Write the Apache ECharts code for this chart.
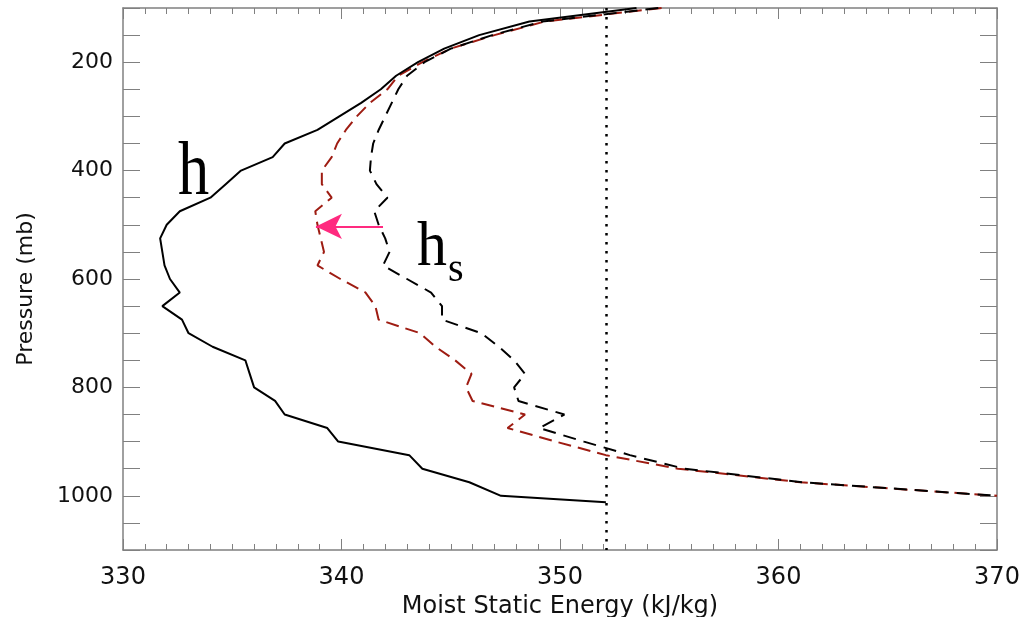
<!DOCTYPE html>
<html>
<head>
<meta charset="utf-8">
<script src="https://cdn.jsdelivr.net/npm/echarts@6/dist/echarts.min.js"></script>
<style>
html,body{margin:0;padding:0;background:#fff;}
#c{width:1024px;height:617px;}
</style>
</head>
<body>
<div id="c"></div>
<script>
// ---- Data ----
const pLevels = [100,125,150,175,200,225,250,275,300,325,350,375,400,425,450,475,500,525,550,575,600,625,650,675,700,725,750,775,800,825,850,875,900,925,950,975,1000];
// Moist static energy h (solid), plus surface point
const hP   = pLevels.concat([1012]);
const hVal = [353.5,348.6,346.3,344.7,343.5,342.5,341.8,340.9,339.9,338.9,337.4,336.85,335.4,334.7,334.0,332.6,332.0,331.7,331.8,331.9,332.15,332.6,331.8,332.7,333.0,334.1,335.6,335.8,336.0,336.96,337.4,339.35,339.85,343.1,343.7,345.85,347.3,352.1];
// Saturated moist static energy hs (black dashed)
const hsVal = [354.5,349.2,346.9,345.0,343.8,343.0,342.6,342.3,342.0,341.7,341.45,341.35,341.3,341.6,342.1,341.5,341.7,342.0,342.2,341.9,343.0,344.1,344.6,344.6,346.4,347.2,347.9,348.4,347.9,348.1,350.2,349.05,351.1,353.2,355.7,361.1,370.0];
// Modified hs (red dashed)
const hsModVal = [354.65,349.3,347.0,345.0,343.7,342.6,342.1,341.3,340.7,340.2,339.8,339.55,339.1,339.1,339.55,338.8,338.9,339.05,339.2,338.9,339.95,341.1,341.55,341.7,343.6,344.3,345.2,345.95,345.7,346.0,348.4,347.6,349.8,352.1,355.4,361.0,370.0];
const dottedX = 352.1;
const arrowFrom = [341.9, 503];
const arrowTo = [338.83, 503];
const xTicks = [330,340,350,360,370];
const yTickLabels = [200,400,600,800,1000];
const labelH = {text:'h', at:[332.52, 439]};
const labelHs = {text:'h', at:[343.45, 570]};
const labelS = {text:'s', at:[344.87, 601]};

function zip(xs, ps){ return xs.map((v,i)=>[v, ps[i]]); }

const chart = echarts.init(document.getElementById('c'), null, {renderer:'canvas'});
const gray = '#808080';
const xBase = {
  type:'value', min:330, max:370, interval:10,
  axisLine:{show:true, onZero:false, lineStyle:{color:gray, width:1.5}},
  axisTick:{show:true, inside:true, length:11, lineStyle:{color:gray, width:1}},
  minorTick:{show:true, splitNumber:10, length:6, lineStyle:{color:gray, width:1}},
  splitLine:{show:false}, minorSplitLine:{show:false}
};
const yBase = {
  type:'value', inverse:true, min:100, max:1100, interval:50,
  axisLine:{show:true, onZero:false, lineStyle:{color:gray, width:1.5}},
  axisTick:{show:true, inside:true, length:17, lineStyle:{color:gray, width:1}},
  splitLine:{show:false}
};

const option = {
  animation:false,
  backgroundColor:'#fff',
  grid:{left:123, right:27, top:8, bottom:67, containLabel:false, outerBoundsMode:'none'},
  xAxis:[
    Object.assign({}, xBase, {
      position:'bottom',
      axisLabel:{show:true, margin:16, color:'#111', fontFamily:'DejaVu Sans', fontSize:24,
        formatter:v=> xTicks.includes(v) ? String(v) : ''},
      name:'Moist Static Energy (kJ/kg)', nameLocation:'middle', nameGap:44,
      nameTextStyle:{color:'#111', fontFamily:'DejaVu Sans', fontSize:24}
    }),
    Object.assign({}, xBase, {position:'top', axisLabel:{show:false}})
  ],
  yAxis:[
    Object.assign({}, yBase, {
      position:'left',
      axisLabel:{show:true, margin:10, color:'#111', fontFamily:'DejaVu Sans', fontSize:22,
        formatter:v=> yTickLabels.includes(v) ? String(v) : ''},
      name:'Pressure (mb)', nameLocation:'middle', nameGap:86, nameRotate:90,
      nameTextStyle:{color:'#111', fontFamily:'DejaVu Sans', fontSize:22, padding:[0,20,0,0]}
    }),
    Object.assign({}, yBase, {position:'right', axisLabel:{show:false}})
  ],
  series:[
    {
      type:'line', name:'h', data:zip(hVal, hP), symbol:'none', xAxisIndex:0, yAxisIndex:0,
      lineStyle:{color:'#000', width:2}, z:3,
      markLine:{
        silent:true, symbol:['none','none'], label:{show:false},
        lineStyle:{color:'#000', type:[2.5,6.5], width:2.5, cap:'butt'},
        data:[{xAxis:dottedX}]
      }
    },
    {
      type:'line', name:'hs_mod', data:zip(hsModVal, pLevels), symbol:'none',
      lineStyle:{color:'#9e1c12', width:2, type:[13,7]}, z:2
    },
    {
      type:'line', name:'hs', data:zip(hsVal, pLevels), symbol:'none',
      lineStyle:{color:'#000', width:2, type:[13,8]}, z:2
    },
    {
      type:'line', name:'arrow', data:[], symbol:'none',
      markLine:{
        silent:true, symbol:['none','arrow'], symbolSize:[19,26], label:{show:false},
        lineStyle:{color:'#ff2a7f', width:2, type:'solid'},
        itemStyle:{color:'#ff2a7f'},
        data:[[{coord:arrowFrom},{coord:arrowTo}]]
      }
    }
  ]
};
chart.setOption(option);

function px(pt){ return chart.convertToPixel({xAxisIndex:0, yAxisIndex:0}, pt); }
const a = px(labelH.at), b = px(labelHs.at), c = px(labelS.at);
const serif = 'Liberation Serif';
function txt(p, t, fs, sx){
  return {type:'text', x:p[0], y:p[1] + 0.27*fs, scaleX:sx,
    style:{text:t, font:fs+'px "'+serif+'"', fill:'#000', align:'left', verticalAlign:'bottom'}};
}
chart.setOption({
  graphic:[
    txt(a, labelH.text, 76, 0.82),
    txt(b, labelHs.text, 63, 0.95),
    txt(c, labelS.text, 40, 1)
  ]
});
</script>
</body>
</html>
